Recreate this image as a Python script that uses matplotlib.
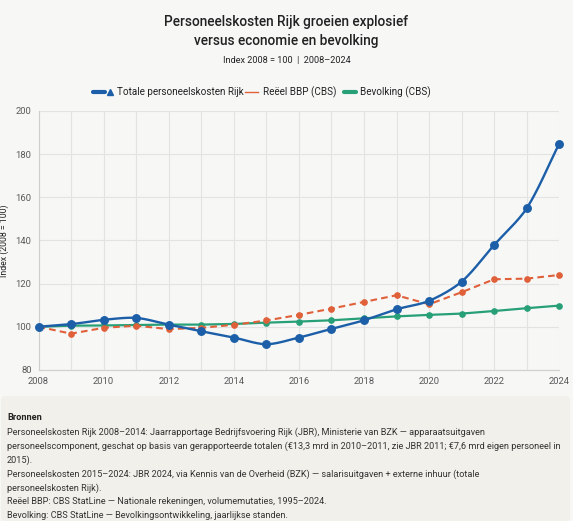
import numpy as np
import matplotlib
matplotlib.use("Agg")
import matplotlib.pyplot as plt
from matplotlib.lines import Line2D
from matplotlib.patches import FancyBboxPatch

# data (index 2008 = 100)
years = list(range(2008, 2025))
personeel = [100, 101.2, 103.2, 104.1, 101.0, 97.9, 95.0, 91.9, 95.0, 99.0,
             103.0, 108.1, 112.0, 120.9, 137.9, 154.9, 184.9]
bbp = [100, 96.8, 99.5, 100.5, 98.9, 99.5, 100.9, 102.9, 105.5, 108.4,
       111.5, 114.6, 110.4, 116.0, 122.0, 122.3, 124.0]
bevolking = [100, 100.5, 100.6, 100.8, 101.0, 101.0, 101.3, 101.9, 102.4, 103.0,
             103.9, 104.8, 105.5, 106.1, 107.3, 108.6, 109.8]

title = "Personeelskosten Rijk groeien explosief\nversus economie en bevolking"
subtitle = "Index 2008 = 100  |  2008–2024"
legend_labels = ["Totale personeelskosten Rijk", "Reëel BBP (CBS)", "Bevolking (CBS)"]
sources = [
    "Personeelskosten Rijk 2008–2014: Jaarrapportage Bedrijfsvoering Rijk (JBR), Ministerie van BZK — apparaatsuitgaven",
    "personeelscomponent, geschat op basis van gerapporteerde totalen (€13,3 mrd in 2010–2011, zie JBR 2011; €7,6 mrd eigen personeel in",
    "2015).",
    "Personeelskosten 2015–2024: JBR 2024, via Kennis van de Overheid (BZK) — salarisuitgaven + externe inhuur (totale",
    "personeelskosten Rijk).",
    "Reëel BBP: CBS StatLine — Nationale rekeningen, volumemutaties, 1995–2024.",
    "Bevolking: CBS StatLine — Bevolkingsontwikkeling, jaarlijkse standen.",
]

BLUE = "#1c5fa8"
ORANGE = "#e0603a"
GREEN = "#27a077"
BG = "#f7f7f6"
TXT = "#222222"
GREY = "#5a5a5a"

plt.rcParams['font.family'] = ['Roboto', 'DejaVu Sans']


def spline(x, y, tension=0.3, sx=32.55, sy=2.158, n=24):
    # chart.js-style bezier smoothing, distances measured in (approx) pixel space
    p = np.column_stack([np.asarray(x, float) * sx, np.asarray(y, float) * sy])
    cps = []
    for i in range(len(p)):
        p0 = p[max(i - 1, 0)]
        p1 = p[i]
        p2 = p[min(i + 1, len(p) - 1)]
        d01 = np.hypot(*(p1 - p0))
        d12 = np.hypot(*(p2 - p1))
        tot = d01 + d12
        s01 = d01 / tot if tot else 0
        s12 = d12 / tot if tot else 0
        cps.append((p1 - tension * s01 * (p2 - p0), p1 + tension * s12 * (p2 - p0)))
    out = []
    t = np.linspace(0, 1, n)[:, None]
    for i in range(len(p) - 1):
        a, b = p[i], cps[i][1]
        c, d = cps[i + 1][0], p[i + 1]
        seg = (1 - t)**3 * a + 3 * (1 - t)**2 * t * b + 3 * (1 - t) * t**2 * c + t**3 * d
        out.append(seg)
    out = np.vstack(out)
    return out[:, 0] / sx, out[:, 1] / sy


fig = plt.figure(figsize=(5.73, 5.21), dpi=100, facecolor=BG)
ax = fig.add_axes([0.0672, 0.290, 0.9088, 0.497])
ax.set_facecolor(BG)

ax.plot(years, bevolking, color=GREEN, lw=1.6, marker='o', ms=3.8, zorder=3, clip_on=False)
ax.plot(years, bbp, color=ORANGE, lw=1.5, ls=(0, (3.2, 2.0)), marker='o', ms=3.8, zorder=4,
        clip_on=False)
lx, lyv = spline(years, personeel)
ax.plot(lx, lyv, color=BLUE, lw=1.7, zorder=5, clip_on=False)
ax.plot(years, personeel, ls='none', color=BLUE, marker='o', ms=5.4, zorder=6, clip_on=False)

ax.set_xlim(2008, 2024)
ax.set_ylim(80, 200)
ax.set_xticks(range(2008, 2025, 2))
ax.set_xticks(years, minor=True)
ax.set_yticks(range(80, 201, 20))
ax.grid(True, which='both', color='#e3e3e3', lw=0.8)
ax.set_axisbelow(True)
ax.tick_params(which='both', length=0, pad=5, labelsize=6.8, labelcolor=GREY)
for s in ['top', 'right']:
    ax.spines[s].set_visible(False)
for s in ['left', 'bottom']:
    ax.spines[s].set_color('#cfcfcf')
ax.set_ylabel("Index (2008 = 100)", fontsize=6.3, color=TXT, labelpad=5)

W = 573
H = 521
fig.text(0.5, 1 - 22 / H, title.split("\n")[0], ha='center', va='center', fontsize=9.8,
         fontweight='medium', color=TXT)
fig.text(0.5, 1 - 41 / H, title.split("\n")[1], ha='center', va='center', fontsize=9.8,
         fontweight='medium', color=TXT)
fig.text(0.5, 1 - 60 / H, subtitle, ha='center', va='center', fontsize=6.6, color=TXT)

# legend drawn by hand so the blue entry gets its bar + triangle
ly = 1 - 92 / H
fig.add_artist(Line2D([93 / W, 105 / W], [ly, ly], color=BLUE, lw=3, solid_capstyle='round'))
fig.add_artist(Line2D([109.5 / W], [ly], color=BLUE, marker='^', ms=5, ls='none'))
fig.text(117 / W, ly, legend_labels[0], va='center', fontsize=7.1, color=TXT)
fig.add_artist(Line2D([245 / W, 258 / W], [ly, ly], color=ORANGE, lw=1))
fig.text(263 / W, ly, legend_labels[1], va='center', fontsize=7.1, color=TXT)
fig.add_artist(Line2D([344 / W, 356 / W], [ly, ly], color=GREEN, lw=3, solid_capstyle='round'))
fig.text(360 / W, ly, legend_labels[2], va='center', fontsize=7.1, color=TXT)

# sources box
box = FancyBboxPatch((0.002, 0.0), 0.993, 1 - 396 / H, boxstyle="round,pad=0,rounding_size=0.008",
                     transform=fig.transFigure, facecolor="#f1f0ea", edgecolor='none', zorder=0)
fig.add_artist(box)
fig.text(7 / W, 1 - 417 / H, "Bronnen", va='center', fontsize=6.6, fontweight='bold', color=TXT)
for i, line in enumerate(sources):
    fig.text(7 / W, 1 - (432 + i * 14) / H, line, va='center', fontsize=6.6, color='#333333')

fig.savefig("out.png", dpi=100, facecolor=BG)
